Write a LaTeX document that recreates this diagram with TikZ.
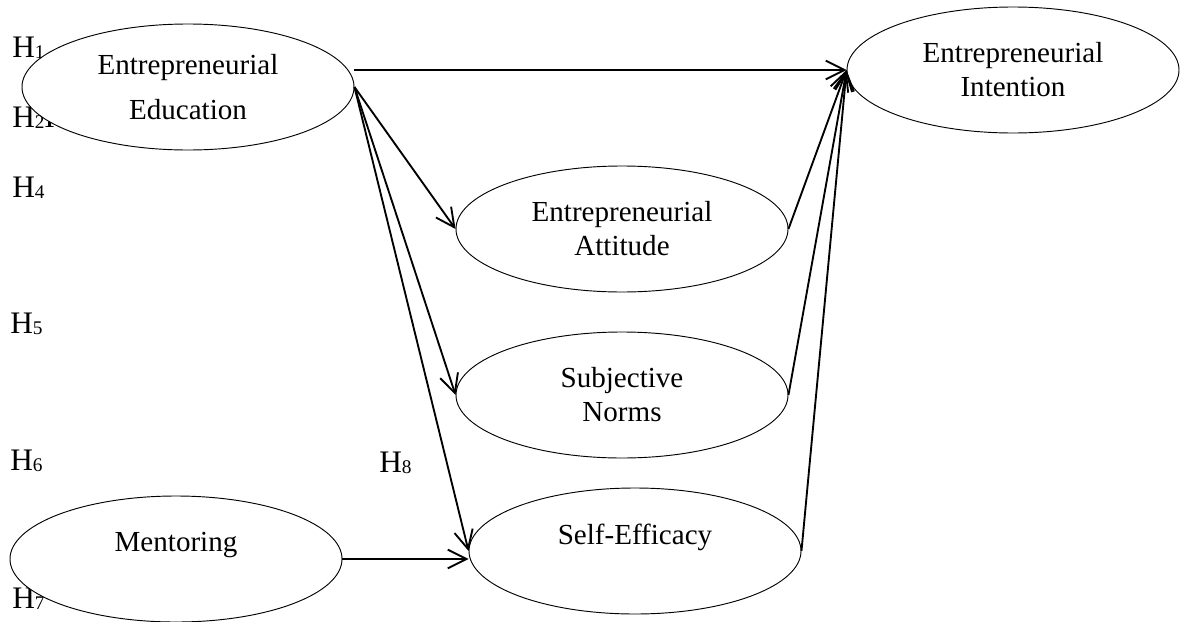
\documentclass[tikz,border=0pt]{standalone}
\usepackage{fontspec}
\setmainfont{Liberation Serif}
\usetikzlibrary{shapes.geometric,arrows.meta}
\newcommand{\hyp}[1]{H\raisebox{-1pt}{\fontsize{14.5}{14.5}\selectfont #1}}

\begin{document}
\begin{tikzpicture}[x=0.75pt,y=-0.75pt]
\tikzstyle{var}=[ellipse,draw,fill=white,line width=0.7pt,minimum width=249pt,minimum height=94.5pt,inner sep=0pt,align=center,font=\fontsize{21.8}{25.5}\selectfont];
\tikzstyle{hlab}=[inner sep=0pt,anchor=base west,font=\fontsize{23.5}{28}\selectfont];
\tikzstyle{link}=[-{Straight Barb[length=14pt,width=14pt]},line width=1.4pt];
\useasboundingbox (0,0) rectangle (1181,621);
% hypothesis labels (behind the ellipses)
\node[hlab] (h1) at (12,57)  {\hyp{1}};
\node[hlab] (h2) at (12,127) {\hyp{2}\hyp{3}};
\node[hlab] (h4) at (12,197) {\hyp{4}};
\node[hlab] (h5) at (10,333) {\hyp{5}};
\node[hlab] (h6) at (10,470) {\hyp{6}};
\node[hlab] (h7) at (12,608) {\hyp{7}};
\node[hlab] (h8) at (379,472) {\hyp{8}};
% constructs
\node[var] (ee)  at (188,87)  {Entrepreneurial\\[8pt]Education};
\node[var] (ei)  at (1013,70) {Entrepreneurial\\Intention};
\node[var] (att) at (622,229) {Entrepreneurial\\Attitude};
\node[var] (sn)  at (622,395) {Subjective\\Norms};
\node[var] (se)  at (635,551) {Self-Efficacy\\\mbox{}};
\node[var] (men) at (176,559) {Mentoring\\\mbox{}};
% paths
\draw[link] (ee.east |- ei.west) -- (ei.west);
\draw[link] (ee.east) -- (att.west);
\draw[link] (ee.east) -- (sn.west);
\draw[link] (ee.east) -- (se.west);
\draw[link] (men.east) -- (se.west |- men.east);
\draw[link] (att.east) -- (ei.west);
\draw[link] (sn.east) -- (ei.west);
\draw[link] (se.east) -- (ei.west);
\end{tikzpicture}
\end{document}
